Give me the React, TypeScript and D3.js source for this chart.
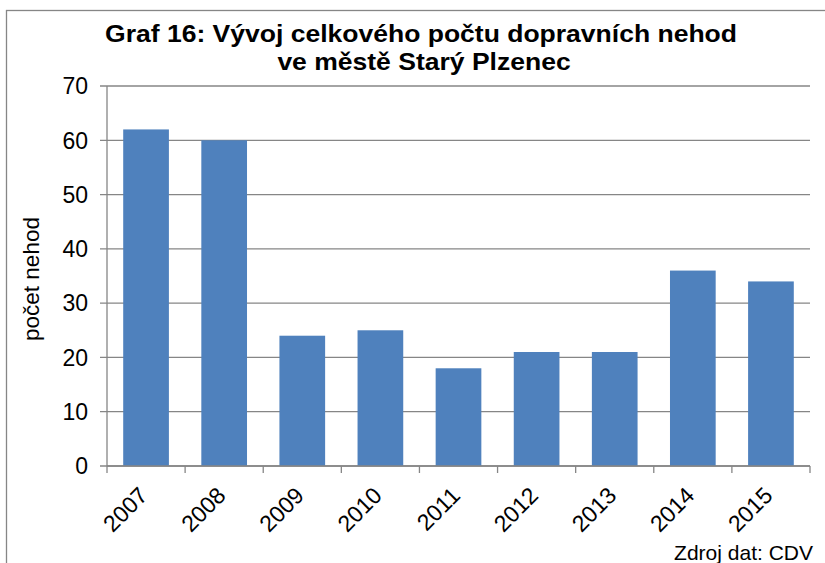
import React from "react";
import * as d3 from "d3";

const years = ["2007", "2008", "2009", "2010", "2011", "2012", "2013", "2014", "2015"];
const accidents = [62, 60, 24, 25, 18, 21, 21, 36, 34];
const yTicks = [0, 10, 20, 30, 40, 50, 60, 70];
const titleLines = ["Graf 16: Vývoj celkového počtu dopravních nehod", "ve městě Starý Plzenec"];
const yLabel = "počet nehod";
const sourceNote = "Zdroj dat: CDV";

const W = 825;
const H = 563;
const margin = { top: 86, right: 15, bottom: 97, left: 107 };
const font = "'Liberation Sans', Arial, sans-serif";
const grey = "#868686";

export default function App() {
  const innerW = W - margin.left - margin.right;
  const innerH = H - margin.top - margin.bottom;

  const x = d3.scaleBand().domain(years).range([0, innerW]).paddingInner(0.415).paddingOuter(0.2075);
  const y = d3.scaleLinear().domain([0, 70]).range([innerH, 0]);
  const step = x.step();

  return (
    <svg width={W} height={H} style={{ position: "absolute", left: 0, top: 0, background: "#fff" }}>
      <rect x={6.5} y={10.5} width={W + 20} height={H + 20} fill="#fff" stroke={grey} strokeWidth={1.3} />

      {/* title looks slightly wide in the source, so stretch it a bit */}
      <g fontFamily={font} fontWeight="bold" fontSize={24} textAnchor="middle">
        <text transform="translate(421,42) scale(1.105,1)">{titleLines[0]}</text>
        <text transform="translate(424,70) scale(1.105,1)">{titleLines[1]}</text>
      </g>

      <g transform={`translate(${margin.left},${margin.top})`}>
        {yTicks.map((t) => (
          <g key={t}>
            <line x1={-7} x2={innerW} y1={y(t)} y2={y(t)} stroke={grey} strokeWidth={1.3} />
            <text x={-19} y={y(t)} dy="0.36em" textAnchor="end" fontFamily={font} fontSize={23}>
              {t}
            </text>
          </g>
        ))}
        <line x1={0} x2={0} y1={0} y2={innerH} stroke={grey} strokeWidth={1.3} />

        {years.map((yr, i) => (
          <rect
            key={yr}
            x={x(yr)}
            y={y(accidents[i])}
            width={x.bandwidth()}
            height={innerH - y(accidents[i])}
            fill="#4F81BD"
          />
        ))}

        <line x1={0} x2={innerW} y1={innerH} y2={innerH} stroke={grey} strokeWidth={1.3} />
        {d3.range(years.length + 1).map((i) => (
          <line key={i} x1={i * step} x2={i * step} y1={innerH} y2={innerH + 7} stroke={grey} strokeWidth={1.3} />
        ))}

        {years.map((yr) => {
          const cx = (x(yr) ?? 0) + x.bandwidth() / 2;
          return (
            <text
              key={yr}
              transform={`translate(${cx + 3},${innerH + 31}) rotate(-45)`}
              textAnchor="end"
              fontFamily={font}
              fontSize={23}
            >
              {yr}
            </text>
          );
        })}
      </g>

      <text
        transform={`translate(39,279) rotate(-90)`}
        textAnchor="middle"
        fontFamily={font}
        fontSize={22.5}
      >
        {yLabel}
      </text>

      <text x={813} y={560} textAnchor="end" fontFamily={font} fontSize={21}>
        {sourceNote}
      </text>
    </svg>
  );
}
